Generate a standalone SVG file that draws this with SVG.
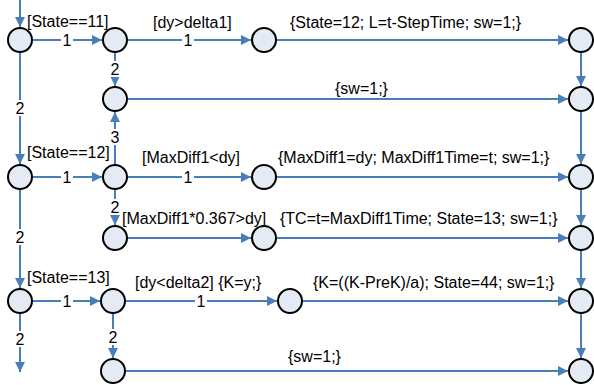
<svg xmlns="http://www.w3.org/2000/svg" width="594" height="385" viewBox="0 0 594 385">
<style>
  .n { fill: #e4ebf5; stroke: #000; stroke-width: 2; }
  .e { fill: none; stroke: #4a7ebb; stroke-width: 2; marker-end: url(#ah); }
  .t { font-family: "Liberation Sans", Arial, sans-serif; font-size: 16px; fill: #000; }
  .m { font-family: "Liberation Sans", Arial, sans-serif; font-size: 16px; fill: #000; text-anchor: middle; }
  .bg { fill: #fff; }
</style>
<defs>
  <marker id="ah" markerWidth="10" markerHeight="10" refX="10" refY="5" orient="auto" markerUnits="userSpaceOnUse">
    <path d="M0,0 L10,5 L0,10 z" fill="#4a7ebb"/>
  </marker>
</defs>
<rect width="594" height="385" fill="#fff"/>
<g id="connectors">
  <path class="e" d="M20,0 V27"/>
  <path class="e" d="M32,40 H102"/>
  <path class="e" d="M127,40 H251"/>
  <path class="e" d="M276,40 H568"/>
  <path class="e" d="M115,52 V86"/>
  <path class="e" d="M127,99 H568"/>
  <path class="e" d="M581,52 V86"/>
  <path class="e" d="M20,52 V164"/>
  <path class="e" d="M32,177 H102"/>
  <path class="e" d="M115,165 V112"/>
  <path class="e" d="M127,177 H251"/>
  <path class="e" d="M276,177 H568"/>
  <path class="e" d="M581,111 V164"/>
  <path class="e" d="M115,189 V225"/>
  <path class="e" d="M127,238 H251"/>
  <path class="e" d="M276,238 H568"/>
  <path class="e" d="M581,189 V225"/>
  <path class="e" d="M20,189 V288"/>
  <path class="e" d="M581,250 V288"/>
  <path class="e" d="M32,301 H100"/>
  <path class="e" d="M125,301 H277"/>
  <path class="e" d="M302,301 H568"/>
  <path class="e" d="M20,313 V372"/>
  <path class="e" d="M113,313 V358"/>
  <path class="e" d="M125,371 H568"/>
  <path class="e" d="M581,313 V358"/>
  <!-- edge number labels -->
  <rect class="bg" x="61" y="32" width="12" height="16"/><text class="m" x="67" y="46">1</text>
  <rect class="bg" x="182" y="32" width="12" height="16"/><text class="m" x="188" y="46">1</text>
  <rect class="bg" x="109" y="61" width="12" height="16"/><text class="m" x="115" y="75">2</text>
  <rect class="bg" x="14" y="100" width="12" height="16"/><text class="m" x="20" y="114">2</text>
  <rect class="bg" x="109" y="129" width="12" height="16"/><text class="m" x="115" y="143">3</text>
  <rect class="bg" x="61" y="169" width="12" height="16"/><text class="m" x="67" y="183">1</text>
  <rect class="bg" x="182" y="169" width="12" height="16"/><text class="m" x="188" y="183">1</text>
  <rect class="bg" x="109" y="199" width="12" height="16"/><text class="m" x="115" y="213">2</text>
  <rect class="bg" x="14" y="229" width="12" height="16"/><text class="m" x="20" y="243">2</text>
  <rect class="bg" x="61" y="293" width="12" height="16"/><text class="m" x="67" y="307">1</text>
  <rect class="bg" x="195" y="293" width="12" height="16"/><text class="m" x="201" y="307">1</text>
  <rect class="bg" x="107" y="329" width="12" height="16"/><text class="m" x="113" y="343">2</text>
  <rect class="bg" x="14" y="331" width="12" height="16"/><text class="m" x="20" y="345">2</text>
  <!-- edge condition/action labels -->
  <text class="t" x="27" y="27">[State==11]</text>
  <text class="t" x="153" y="28">[dy&gt;delta1]</text>
  <text class="t" x="290" y="28">{State=12; L=t-StepTime; sw=1;}</text>
  <text class="t" x="335" y="94">{sw=1;}</text>
  <text class="t" x="27" y="158">[State==12]</text>
  <text class="t" x="142" y="163">[MaxDiff1&lt;dy]</text>
  <text class="t" x="278" y="163">{MaxDiff1=dy; MaxDiff1Time=t; sw=1;}</text>
  <text class="t" x="122" y="224">[MaxDiff1*0.367&gt;dy]</text>
  <text class="t" x="280" y="224">{TC=t=MaxDiff1Time; State=13; sw=1;}</text>
  <text class="t" x="27" y="283">[State==13]</text>
  <text class="t" x="135" y="288">[dy&lt;delta2] {K=y;}</text>
  <text class="t" x="313" y="288">{K=((K-PreK)/a); State=44; sw=1;}</text>
  <text class="t" x="288" y="362">{sw=1;}</text>
</g>
<g id="n1"><circle class="n" cx="20" cy="40" r="12"/></g>
<g id="n2"><circle class="n" cx="115" cy="40" r="12"/></g>
<g id="n3"><circle class="n" cx="264" cy="40" r="12"/></g>
<g id="n4"><circle class="n" cx="581" cy="40" r="12"/></g>
<g id="n5"><circle class="n" cx="115" cy="99" r="12"/></g>
<g id="n6"><circle class="n" cx="581" cy="99" r="12"/></g>
<g id="n7"><circle class="n" cx="20" cy="177" r="12"/></g>
<g id="n8"><circle class="n" cx="115" cy="177" r="12"/></g>
<g id="n9"><circle class="n" cx="264" cy="177" r="12"/></g>
<g id="n10"><circle class="n" cx="581" cy="177" r="12"/></g>
<g id="n11"><circle class="n" cx="115" cy="238" r="12"/></g>
<g id="n12"><circle class="n" cx="264" cy="238" r="12"/></g>
<g id="n13"><circle class="n" cx="581" cy="238" r="12"/></g>
<g id="n14"><circle class="n" cx="20" cy="301" r="12"/></g>
<g id="n15"><circle class="n" cx="113" cy="301" r="12"/></g>
<g id="n16"><circle class="n" cx="290" cy="301" r="12"/></g>
<g id="n17"><circle class="n" cx="581" cy="301" r="12"/></g>
<g id="n18"><circle class="n" cx="113" cy="371" r="12"/></g>
<g id="n19"><circle class="n" cx="581" cy="371" r="12"/></g>
</svg>
